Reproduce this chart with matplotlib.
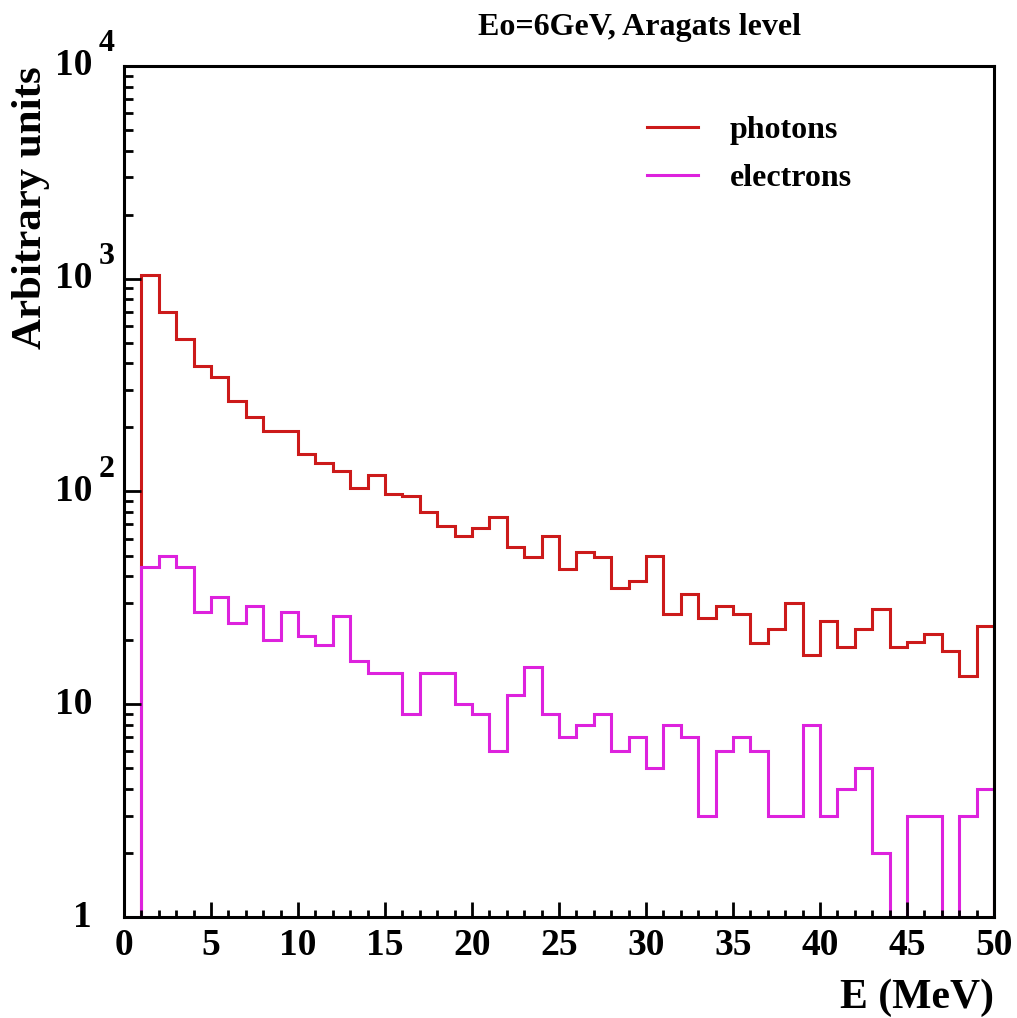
import numpy as np
import matplotlib
matplotlib.use("Agg")
import matplotlib.pyplot as plt
from matplotlib.ticker import MultipleLocator, LogLocator, NullFormatter
import matplotlib.transforms as mtransforms

# Energy spectra at Aragats level, 1 MeV bins from 1 to 50 MeV
bin_edges = np.arange(1, 51)
photons = [1040, 700, 520, 390, 345, 265, 225, 192, 192, 150,
           136, 125, 104, 120, 97, 95, 80, 69, 62, 67,
           76, 55, 49, 62, 43, 52, 49, 35, 38, 50,
           26.5, 33, 25.5, 29, 26.5, 19.5, 22.5, 30, 17, 24.5,
           18.6, 22.5, 28, 18.6, 19.6, 21.5, 17.7, 13.6, 23.3]
electrons = [44, 50, 44, 27, 32, 24, 29, 20, 27, 21,
             19, 26, 16, 14, 14, 9, 14, 14, 10, 9,
             6, 11, 15, 9, 7, 8, 9, 6, 7, 5,
             8, 7, 3, 6, 7, 6, 3, 3, 8, 3,
             4, 5, 2, 0, 3, 3, 0, 3, 4]

series_labels = ["photons", "electrons"]
series_colors = ["#cc1a1a", "#dd22dd"]
title_text = "Eo=6GeV, Aragats level"
x_label = "E (MeV)"
y_label = "Arbitrary units"
x_ticks = [0, 5, 10, 15, 20, 25, 30, 35, 40, 45, 50]
y_decades = [1, 10, 100, 1000, 10000]
y_bases = ["1", "10", "10", "10", "10"]
y_exponents = ["", "", "2", "3", "4"]

plt.rcParams["font.family"] = ["Liberation Serif", "DejaVu Serif"]
plt.rcParams["font.weight"] = "bold"

fig = plt.figure(figsize=(10.17, 10.18), dpi=100)
ax = fig.add_axes([0.1219, 0.0992, 0.8555, 0.8360])
ax.set_yscale("log")
ax.set_xlim(0, 50)
ax.set_ylim(1, 1e4)

# empty bins sit below the visible range so the outline drops to the frame
floor = 1e-2
for vals, lab, col in zip([photons, electrons], series_labels, series_colors):
    v = np.asarray(vals, dtype=float)
    ax.stairs(np.where(v > 0, v, floor), bin_edges, baseline=floor,
              color=col, lw=2.2, label=lab)

for side in ["left", "bottom", "top", "right"]:
    ax.spines[side].set_linewidth(2.2)

ax.xaxis.set_major_locator(MultipleLocator(5))
ax.xaxis.set_minor_locator(MultipleLocator(1))
ax.set_xticks(x_ticks)
ax.set_xticklabels([str(t) for t in x_ticks], fontsize=27, fontweight="bold")
ax.yaxis.set_major_locator(LogLocator(base=10, numticks=10))
ax.yaxis.set_minor_locator(LogLocator(base=10, subs=np.arange(2, 10), numticks=10))
ax.yaxis.set_major_formatter(NullFormatter())
ax.yaxis.set_minor_formatter(NullFormatter())

ax.tick_params(axis="x", which="major", direction="in", length=11, width=2,
               top=False, pad=8)
ax.tick_params(axis="x", which="minor", direction="in", length=5, width=2, top=False)
ax.tick_params(axis="y", which="major", direction="in", length=12, width=2, right=False)
ax.tick_params(axis="y", which="minor", direction="in", length=6.5, width=2, right=False)

# decade labels with raised exponents
ytrans = mtransforms.blended_transform_factory(ax.transAxes, ax.transData)
for val, base, ex in zip(y_decades, y_bases, y_exponents):
    ax.text(-0.0368, val, base, transform=ytrans, ha="right", va="center",
            fontsize=27, fontweight="bold")
    if ex:
        ax.annotate(ex, xy=(-0.029, val), xycoords=ytrans,
                    xytext=(0, 22), textcoords="offset pixels",
                    ha="left", va="center", fontsize=23, fontweight="bold")

ax.set_xlabel(x_label, fontsize=30, fontweight="bold", loc="right")
ax.xaxis.set_label_coords(1.0, -0.072)
ax.set_ylabel(y_label, fontsize=31, fontweight="bold", loc="top")
ax.yaxis.set_label_coords(-0.085, 1.0)

fig.text(639 / 1017, 1 - 27 / 1018, title_text, ha="center", va="center",
         fontsize=23, fontweight="bold")

ax.legend(loc="upper left", bbox_to_anchor=(0.601, 0.942), frameon=False,
          fontsize=23, handlelength=1.6, handletextpad=1.0,
          labelspacing=0.6, borderpad=0, borderaxespad=0)

fig.savefig("out.png", dpi=100)
